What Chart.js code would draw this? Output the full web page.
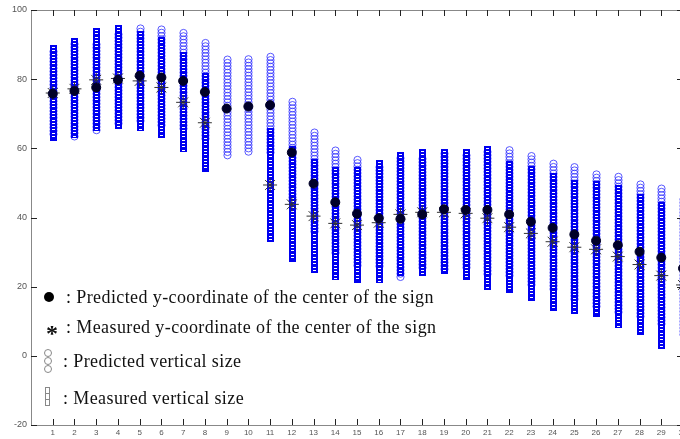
<!DOCTYPE html>
<html>
<head>
<meta charset="utf-8">
<script src="https://cdn.jsdelivr.net/npm/chart.js@4.4.0/dist/chart.umd.min.js"></script>
<style>
html, body { margin: 0; padding: 0; background: #fff; overflow: hidden; }
#wrap { position: relative; width: 700px; height: 439px; }
#chart { display: block; }
.key { position: absolute; font-family: "Liberation Serif", serif; font-size: 18px; line-height: 18px; letter-spacing: 0.4px; color: #111; white-space: nowrap; }
.icon { position: absolute; box-sizing: border-box; }
</style>
</head>
<body>
<div id="wrap">
  <canvas id="chart" width="700" height="439"></canvas>
  <div class="icon" style="left:44px;top:292px;width:10px;height:10px;border-radius:50%;background:#000;"></div>
  <div class="key" style="left:66px;top:288px;">: Predicted y-coordinate of the center of the sign</div>
  <div class="key" style="left:46px;top:321px;font-size:24px;line-height:24px;font-weight:bold;">*</div>
  <div class="key" style="left:66px;top:318px;">: Measured y-coordinate of the center of the sign</div>
  <div class="icon" style="left:44px;top:349px;width:8px;height:8px;border:1px solid #888;border-radius:50%;"></div>
  <div class="icon" style="left:44px;top:357px;width:8px;height:8px;border:1px solid #888;border-radius:50%;"></div>
  <div class="icon" style="left:44px;top:365px;width:8px;height:8px;border:1px solid #888;border-radius:50%;"></div>
  <div class="key" style="left:63px;top:352px;">: Predicted vertical size</div>
  <div class="icon" style="left:45px;top:387px;width:5px;height:7px;border:1px solid #888;"></div>
  <div class="icon" style="left:45px;top:393px;width:5px;height:7px;border:1px solid #888;"></div>
  <div class="icon" style="left:45px;top:399px;width:5px;height:7px;border:1px solid #888;"></div>
  <div class="key" style="left:63px;top:389px;">: Measured vertical size</div>
</div>
<script>
// values (sign index 1..30)
const signIndex = [1, 2, 3, 4, 5, 6, 7, 8, 9, 10, 11, 12, 13, 14, 15, 16, 17, 18, 19, 20, 21, 22, 23, 24, 25, 26, 27, 28, 29, 30];
const predCenter = [75.8, 76.6, 77.6, 79.8, 81.0, 80.5, 79.5, 76.3, 71.5, 72.1, 72.5, 58.8, 49.8, 44.4, 41.1, 39.8, 39.6, 40.9, 42.4, 42.2, 42.2, 40.9, 38.8, 37.0, 35.1, 33.3, 32.0, 30.1, 28.4, 25.3];
const measCenter = [76.0, 77.2, 79.8, 80.2, 79.5, 77.6, 73.3, 67.4, null, null, 49.4, 43.8, 40.4, 38.3, 37.8, 38.5, 40.9, 41.5, 41.5, 41.2, 39.8, 37.2, 35.4, 33.0, 31.4, 30.8, 28.7, 26.4, 23.2, 20.5];
const predTop = [89.0, 91.2, 91.1, 94.0, 95.7, 95.4, 94.4, 91.5, 86.7, 86.8, 87.5, 74.5, 65.6, 60.4, 57.7, 55.6, 58.2, 58.0, 59.5, 59.0, 60.0, 60.5, 58.8, 56.6, 55.6, 53.5, 52.8, 50.6, 49.4, 46.3];
const predBottom = [63.0, 62.0, 64.1, 65.3, 66.7, 65.6, 64.6, 61.1, 56.1, 57.5, 57.5, 43.0, 34.0, 28.3, 24.5, 24.0, 21.0, 23.8, 23.4, 24.0, 22.0, 21.3, 18.8, 17.4, 14.6, 13.1, 11.2, 9.6, 7.4, 4.3];
const measTop = [89.8, 91.8, 94.7, 95.7, 94.0, 92.3, 87.8, 81.7, null, null, 65.8, 60.6, 56.8, 54.7, 54.6, 56.6, 58.8, 59.7, 59.7, 59.7, 60.7, 56.3, 55.0, 53.0, 50.7, 50.5, 49.4, 46.8, 44.5, 40.5];
const measBottom = [62.0, 63.0, 65.0, 65.5, 65.1, 62.9, 58.8, 53.1, null, null, 33.0, 27.0, 24.0, 21.9, 21.0, 21.0, 23.2, 23.1, 23.8, 21.9, 19.0, 18.1, 15.8, 13.0, 12.1, 11.1, 8.0, 6.0, 1.9, 0.5];
const xTickValues = signIndex;
const yTickValues = [-20, 0, 20, 40, 60, 80, 100];

function ranges(lo, hi) {
    return signIndex.map((x, i) => ({ x: x, y: lo[i] == null ? null : [lo[i], hi[i]] }));
}
function points(vals) {
    return signIndex.map((x, i) => ({ x: x, y: vals[i] }));
}

// stacks of small circles / squares inside each floating bar (MATLAB marker look)
const columnTexture = {
    id: 'columnTexture',
    afterDatasetDraw(chart, args) {
        const ds = chart.data.datasets[args.index];
        if (!ds.texture) return;
        const ctx = chart.ctx;
        const area = chart.chartArea;
        ctx.save();
        ctx.beginPath();
        ctx.rect(area.left, area.top, area.right - area.left, area.bottom - area.top);
        ctx.clip();
        ctx.lineWidth = 1;
        args.meta.data.forEach(el => {
            if (el.skip) return;
            const p = el.getProps(['x', 'y', 'base'], true);
            const top = Math.min(p.y, p.base);
            const bottom = Math.max(p.y, p.base);
            const cx = Math.round(p.x) + 0.5;
            if (ds.texture === 'circle') {
                const r = 3.6;
                ctx.strokeStyle = 'rgba(60,60,255,0.85)';
                for (let y = top + r; y <= bottom - r + 0.01; y += 3.3) {
                    ctx.beginPath();
                    ctx.arc(cx, y, r, 0, Math.PI * 2);
                    ctx.stroke();
                }
            } else {
                // solid blue strip with small white gaps, like many overlapping square markers
                const w = 7;
                const t = Math.round(top), b = Math.round(bottom);
                ctx.fillStyle = '#0000f0';
                ctx.fillRect(Math.round(cx - w / 2), t, w, b - t);
                ctx.fillStyle = '#fff';
                for (let y = t + 2; y + 1 < b - 1; y += 3.3) {
                    ctx.fillRect(Math.round(cx - 2), Math.round(y), 3, 1);
                }
            }
        });
        ctx.restore();
    }
};

// top / right frame and inward tick marks
const frame = {
    id: 'frame',
    afterDraw(chart) {
        const ctx = chart.ctx;
        const a = chart.chartArea;
        const xs = chart.scales.x, ys = chart.scales.y;
        ctx.save();
        ctx.strokeStyle = '#888';
        ctx.lineWidth = 1;
        ctx.beginPath();
        ctx.moveTo(a.left, Math.round(a.top) + 0.5);
        ctx.lineTo(a.right, Math.round(a.top) + 0.5);
        ctx.moveTo(Math.round(a.right) + 0.5, a.top);
        ctx.lineTo(Math.round(a.right) + 0.5, a.bottom);
        ctx.stroke();
        ctx.strokeStyle = '#222';
        ctx.beginPath();
        xTickValues.forEach(v => {
            const px = Math.round(xs.getPixelForValue(v)) + 0.5;
            ctx.moveTo(px, a.top); ctx.lineTo(px, a.top + 6);
            ctx.moveTo(px, a.bottom); ctx.lineTo(px, a.bottom - 6);
        });
        yTickValues.forEach(v => {
            const py = Math.round(ys.getPixelForValue(v)) + 0.5;
            ctx.moveTo(a.left, py); ctx.lineTo(a.left + 6, py);
            ctx.moveTo(a.right, py); ctx.lineTo(a.right - 6, py);
        });
        ctx.stroke();
        ctx.restore();
    }
};

const ctx = document.getElementById('chart').getContext('2d');
new Chart(ctx, {
    type: 'bar',
    data: {
        datasets: [{
            label: 'Predicted vertical size',
            data: ranges(predBottom, predTop),
            texture: 'circle',
            grouped: false,
            barThickness: 8,
            backgroundColor: 'rgba(0,0,0,0)',
            borderWidth: 0,
            order: 4
        }, {
            label: 'Measured vertical size',
            data: ranges(measBottom, measTop),
            texture: 'square',
            grouped: false,
            barThickness: 7,
            backgroundColor: 'rgba(0,0,0,0)',
            borderWidth: 0,
            order: 3
        }, {
            type: 'scatter',
            label: 'Measured y-coordinate of the center of the sign',
            data: points(measCenter),
            pointStyle: 'star',
            pointRadius: 7,
            borderColor: '#333',
            borderWidth: 1,
            order: 2
        }, {
            type: 'scatter',
            label: 'Predicted y-coordinate of the center of the sign',
            data: points(predCenter),
            pointStyle: 'circle',
            pointRadius: 4.5,
            backgroundColor: '#000028',
            borderColor: '#000028',
            borderWidth: 1,
            order: 1
        }]
    },
    options: {
        responsive: false,
        animation: false,
        events: [],
        layout: { padding: { top: 10, right: 17, left: 0, bottom: 0 } },
        plugins: { legend: { display: false }, tooltip: { enabled: false } },
        scales: {
            x: {
                type: 'linear',
                min: 0,
                max: 30,
                offset: false,
                afterBuildTicks: s => { s.ticks = xTickValues.map(v => ({ value: v })); },
                afterFit: s => { s.height = 14; s.paddingLeft = 0; s.paddingRight = 0; },
                grid: { display: false, drawTicks: false, offset: false },
                border: { display: true, color: '#888' },
                ticks: {
                    autoSkip: false, maxRotation: 0, padding: 3,
                    color: '#555', font: { family: 'Liberation Sans', size: 8 }
                }
            },
            y: {
                min: -20,
                max: 100,
                afterBuildTicks: s => { s.ticks = yTickValues.map(v => ({ value: v })); },
                afterFit: s => { s.width = 31; s.paddingTop = 0; s.paddingBottom = 0; },
                grid: { display: false, drawTicks: false },
                border: { display: true, color: '#888' },
                ticks: {
                    padding: 4,
                    color: '#555', font: { family: 'Liberation Sans', size: 9 }
                }
            }
        }
    },
    plugins: [columnTexture, frame]
});
</script>
</body>
</html>
